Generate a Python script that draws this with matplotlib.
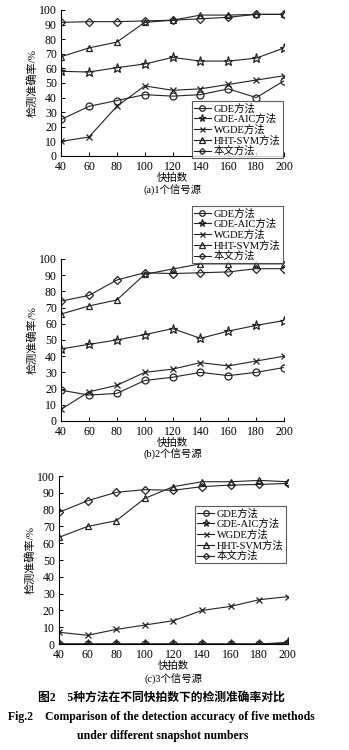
import matplotlib.pyplot as plt

plt.rcParams['font.family'] = ['Liberation Serif', 'Noto Sans CJK SC']
plt.rcParams['axes.unicode_minus'] = False

snapshots = [40, 60, 80, 100, 120, 140, 160, 180, 200]
methods = ['GDE方法', 'GDE-AIC方法', 'WGDE方法', 'HHT-SVM方法', '本文方法']
markers = ['o', '*', 'x', '^', 'D']
msizes = [5, 6.5, 4.5, 5, 3.8]

# (a) 1 signal source
gde_a = [25, 34, 38, 42, 41, 42, 46, 40, 51.5]
aic_a = [58, 57.5, 60.5, 63, 67.5, 65, 65, 67, 74]
wgde_a = [10, 13, 34, 48, 45, 46, 49, 52, 55]
hht_a = [68, 74, 78, 91.5, 93, 96.5, 96.5, 97, 97]
ours_a = [91.5, 92, 92, 92.5, 93, 94, 95, 97, 97]

# (b) 2 signal sources
gde_b = [19, 16, 17, 25, 27, 30, 28, 30, 33]
aic_b = [44.5, 47.3, 50, 53.3, 57, 51, 55.5, 59, 62]
wgde_b = [7.2, 18, 22, 30, 32, 36, 34, 37, 40]
hht_b = [66, 71, 74.7, 90.5, 93.8, 97, 97, 97, 97]
ours_b = [74, 77.5, 87, 91.5, 91, 91.5, 92, 94, 94]

# (c) 3 signal sources
gde_c = [0, 0, 0, 0, 0, 0, 0, 0, 0.5]
aic_c = [0, 0, 0, 0, 0, 0, 0, 0, 1]
wgde_c = [7, 5.2, 8.7, 11.3, 13.9, 20, 22.4, 26.4, 28.2]
hht_c = [63.5, 70, 73.4, 86.7, 93.7, 96.6, 96.6, 97.4, 96.6]
ours_c = [78.4, 85.3, 90.3, 91.9, 91.5, 93.7, 94.6, 95, 95.6]

H = 750.0
panels = [
    ([gde_a, aic_a, wgde_a, hht_a, ours_a], [0.175, 0.792, 0.639, 0.1947], (0.550, 0.8653), '(a)1个信号源', 190),
    ([gde_b, aic_b, wgde_b, hht_b, ours_b], [0.175, 0.4387, 0.639, 0.216], (0.550, 0.7253), '(b)2个信号源', 454),
    ([gde_c, aic_c, wgde_c, hht_c, ours_c], [0.169, 0.1413, 0.656, 0.224], (0.559, 0.3253), '(c)3个信号源', 679),
]

fig = plt.figure(figsize=(3.49, 7.5), dpi=100)

for series, rect, leg_pos, title, ty in panels:
    ax = fig.add_axes(rect)
    for vals, name, m, ms in zip(series, methods, markers, msizes):
        ax.plot(snapshots, vals, color='#222222', lw=0.8, marker=m, ms=ms,
                mfc='none', mec='#222222', mew=0.9, label=name)
    ax.set_xlim(40, 200)
    ax.set_ylim(0, 100)
    ax.set_xticks(snapshots)
    ax.set_yticks(range(0, 101, 10))
    ax.spines['top'].set_visible(False)
    ax.spines['right'].set_visible(False)
    ax.tick_params(direction='in', length=3, width=0.7, labelsize=8.5)
    ax.tick_params(axis='x', pad=3.5)
    ax.tick_params(axis='y', pad=3)
    ax.set_ylabel('检测准确率/%', fontsize=8, labelpad=1)
    ax.set_xlabel('快拍数', fontsize=7.5, labelpad=0)
    cx = rect[0] + rect[2] / 2
    fig.text(cx, 1 - ty / H, title, ha='center', va='center', fontsize=7.5)
    leg = ax.legend(loc='upper left', bbox_to_anchor=leg_pos, bbox_transform=fig.transFigure,
                    fontsize=7.5, frameon=True, fancybox=False, edgecolor='#333333',
                    borderpad=0.2, labelspacing=0.05, handlelength=1.6, handletextpad=0.3,
                    markerscale=0.8, borderaxespad=0)
    leg.get_frame().set_linewidth(0.8)

fig.text(0.462, 1 - 698 / H, '图2　5种方法在不同快拍数下的检测准确率对比',
         ha='center', va='center', fontsize=8.5, fontweight='bold')
fig.text(0.462, 1 - 717 / H, 'Fig.2    Comparison of the detection accuracy of five methods',
         ha='center', va='center', fontsize=8.5, fontweight='bold')
fig.text(0.465, 1 - 736 / H, 'under different snapshot numbers',
         ha='center', va='center', fontsize=8.5, fontweight='bold')

fig.savefig('out.png', dpi=100)
